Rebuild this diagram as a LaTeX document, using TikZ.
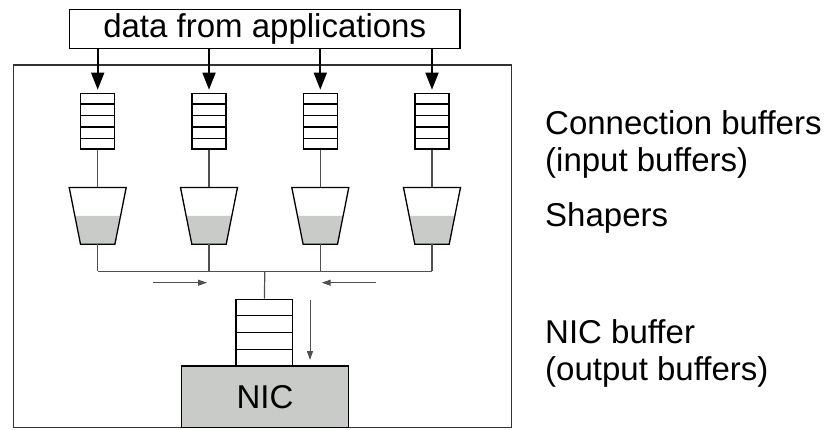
\documentclass[tikz,border=0pt]{standalone}
\usepackage{fontspec}
\setmainfont{Liberation Sans}
\usepackage{xcolor}
\usepackage{tikz}
\usetikzlibrary{calc, arrows.meta, positioning}

\definecolor{shadegray}{RGB}{200,203,200}
\definecolor{wiregray}{RGB}{80,80,80}

\tikzset{
    lbl/.style={font=\fontsize{33}{37}\selectfont, inner sep=0pt},
    box/.style={draw, line width=1.3pt, inner sep=0pt},
    wire/.style={draw=wiregray, line width=1.2pt},
    feed/.style={line width=1.8pt, -{Triangle[length=17pt,width=13pt]}, shorten >=3pt},
    flow/.style={draw=wiregray, line width=1pt, -{Triangle[length=9pt,width=6pt]}},
}

\begin{document}
\begin{tikzpicture}[x=1pt, y=-1pt]
    \useasboundingbox (0,0) rectangle (827,430);

    % Khung may chu
    \node[box, draw=black!80, line width=1.2pt, minimum width=498.4pt, minimum height=362.5pt] (host) at (262.5,246.25) {};

    % Hop du lieu
    \node[box, lbl, minimum width=390.7pt, minimum height=39.4pt] (apps) at (264.7,29) {data from applications};

    % Bo dem ket noi va bo dinh dang
    \foreach \i/\x in {1/97.7, 2/209, 3/320.3, 4/432} {
        \node[box, minimum width=34pt, minimum height=55.7pt] (buf\i) at (\x,121.2) {};
        \foreach \k in {1,...,4}
            \draw[line width=1.3pt] ($(buf\i.north west)!\k/5!(buf\i.south west)$) -- ($(buf\i.north east)!\k/5!(buf\i.south east)$);
        \draw[feed] (apps.south -| buf\i) -- (buf\i.north);

        \node[inner sep=0pt, minimum width=56.6pt, minimum height=56.3pt] (shp\i) at (\x,215.85) {};
        \fill[shadegray] ([xshift=11.3pt]shp\i.south west) -- ([xshift=-11.3pt]shp\i.south east)
            -- ([xshift=-5.65pt]shp\i.east) -- ([xshift=5.65pt]shp\i.west) -- cycle;
        \draw[line width=1.3pt] (shp\i.north west) -- (shp\i.north east)
            -- ([xshift=-11.3pt]shp\i.south east) -- ([xshift=11.3pt]shp\i.south west) -- cycle;
        \draw[wire] (buf\i.south) -- (shp\i.north);

        \coordinate (mrg\i) at (\x,271.5);
        \draw[wire] (shp\i.south) -- (mrg\i);
    }

    % Gop luong
    \draw[wire] (mrg1) -- (mrg4);
    \coordinate (mrgc) at (264.8,271.5);
    \coordinate (inLa) at (152.7,282.7);
    \coordinate (inLb) at (207,282.7);
    \coordinate (inRa) at (376,282.7);
    \coordinate (inRb) at (321.7,282.7);
    \draw[flow] (inLa) -- (inLb);
    \draw[flow] (inRa) -- (inRb);

    % NIC
    \node[box, lbl, fill=shadegray, minimum width=166.6pt, minimum height=61.5pt] (nic) at (265,396.75) {NIC};
    \node[box, minimum width=56.7pt, minimum height=66.7pt] (nbuf) at (264.4,332.7) {};
    \foreach \k in {1,...,3}
        \draw[line width=1.3pt] ($(nbuf.north west)!\k/4!(nbuf.south west)$) -- ($(nbuf.north east)!\k/4!(nbuf.south east)$);
    \draw[wire] (mrgc) -- (nbuf.north);
    \coordinate (outa) at (310,300);
    \coordinate (outb) at (310,360);
    \draw[flow] (outa) -- (outb);

    % Chu thich
    \node[lbl, anchor=base west, align=left] (cbufl) at (545,172) {Connection buffers\\(input buffers)};
    \node[lbl, anchor=base west] (shpl) at (545,226.7) {Shapers};
    \node[lbl, anchor=base west, align=left] (nicl) at (545,380.7) {NIC buffer\\(output buffers)};
\end{tikzpicture}
\end{document}
